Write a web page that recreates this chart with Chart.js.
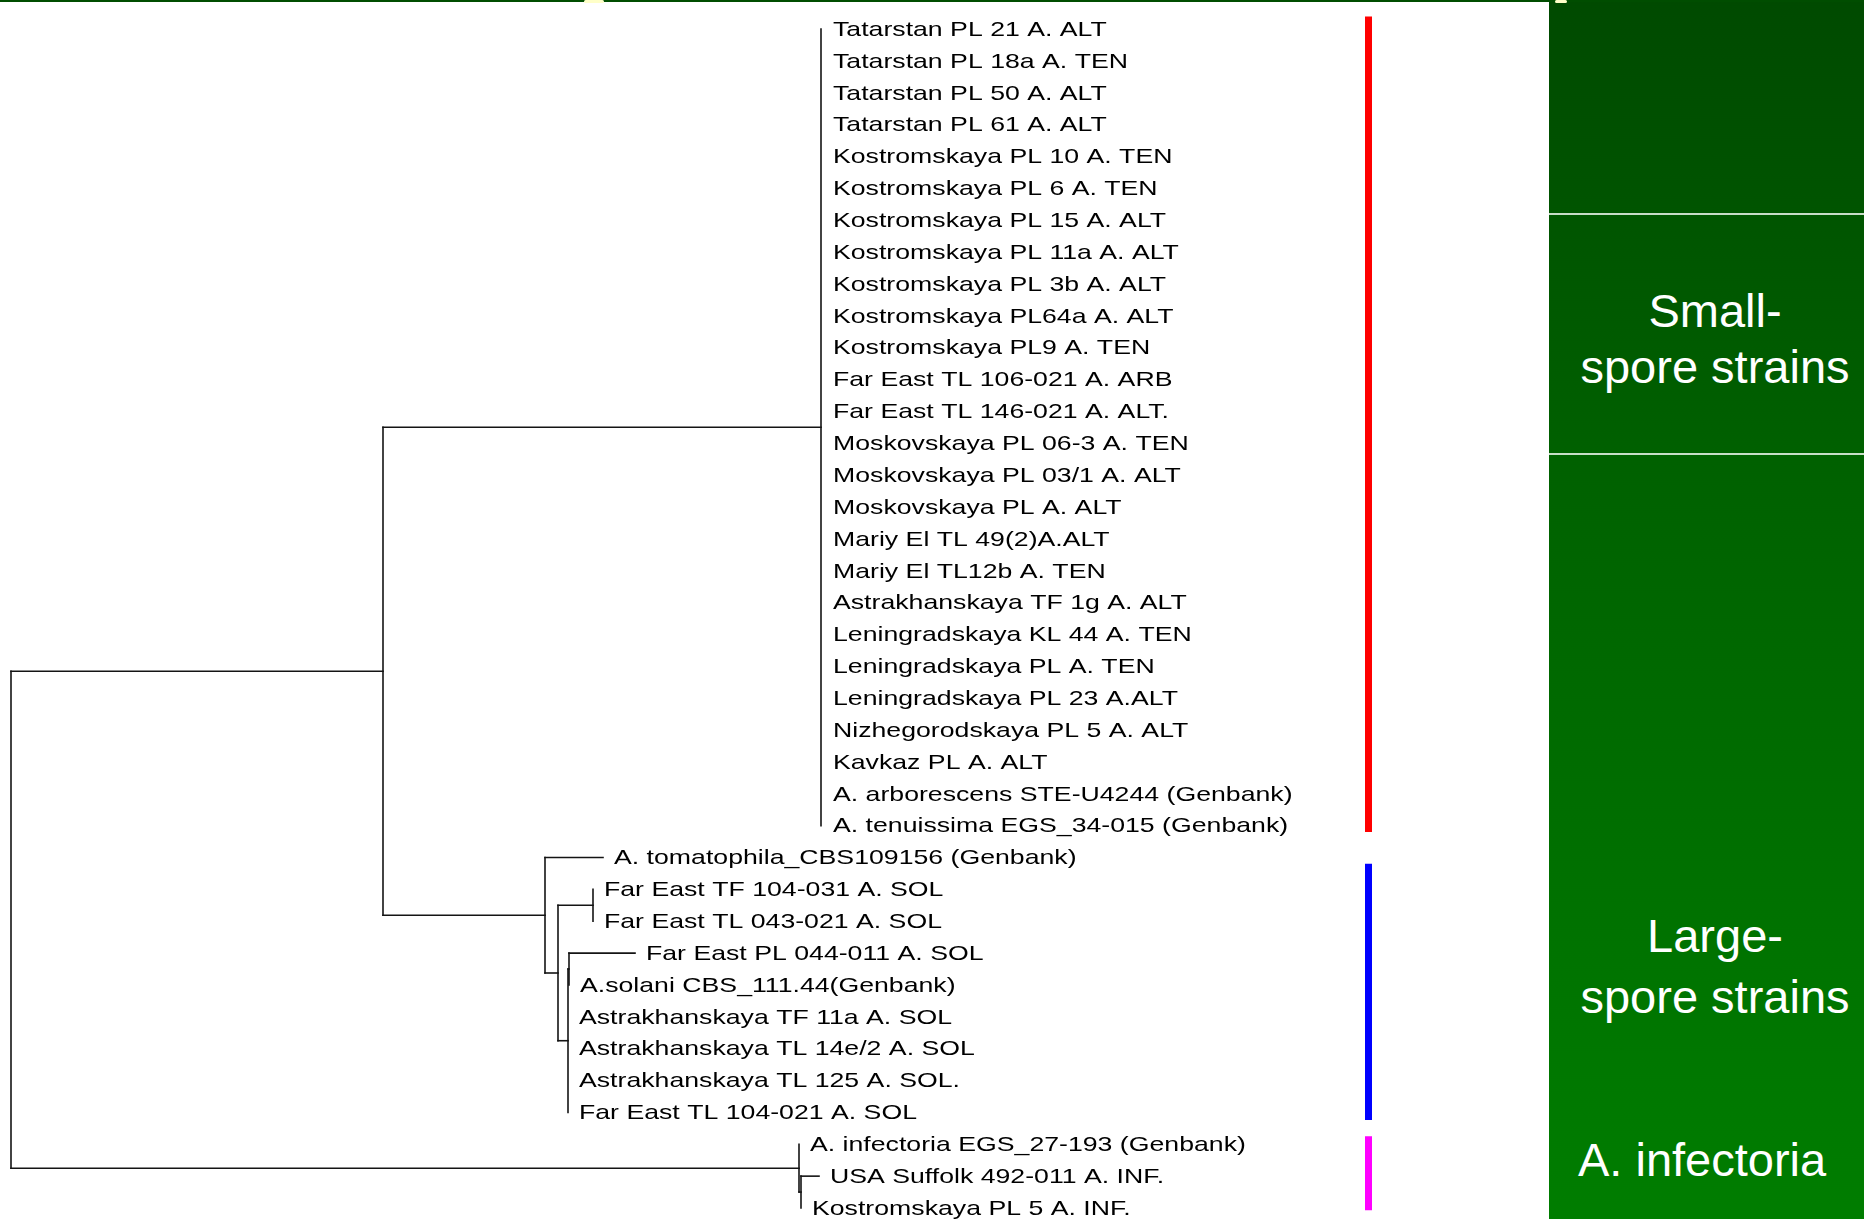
<!DOCTYPE html>
<html>
<head>
<meta charset="utf-8">
<title>Alternaria ITS tree</title>
<script src="https://cdn.jsdelivr.net/npm/chart.js@4/dist/chart.umd.min.js"></script>
<style>
  html, body { margin: 0; padding: 0; background: #ffffff; overflow: hidden; }
  #wrap { position: relative; width: 1864px; height: 1219px; }
  #tree { position: absolute; left: 0; top: 0; }
  #topline { position: absolute; left: 0; top: 0; width: 1864px; height: 2px; background: #004d00; }
  .spark { position: absolute; top: 0; height: 3px; background: #ffffc8; border-radius: 2px; }
  #panel {
    position: absolute; left: 1549px; top: 0; width: 315px; height: 1219px;
    background: linear-gradient(to bottom, #004a00 0%, #006200 40%, #007d00 100%);
    font-family: "Liberation Sans", Arial, sans-serif; color: #ffffff;
  }
  .rule { position: absolute; left: 0; width: 315px; height: 2px; background: rgba(235,245,235,0.85); }
  .cap { position: absolute; font-size: 47px; line-height: 57px; white-space: nowrap; }
  .mid { left: 0; width: 332px; text-align: center; }
</style>
</head>
<body>
<div id="wrap">
  <canvas id="tree" width="1864" height="1219"></canvas>
  <div id="panel">
    <div class="rule" style="top:213px"></div>
    <div class="rule" style="top:453px"></div>
    <div class="cap mid" style="top:282px">Small-</div>
    <div class="cap mid" style="top:338px">spore strains</div>
    <div class="cap mid" style="top:907px">Large-</div>
    <div class="cap mid" style="top:968px">spore strains</div>
    <div class="cap" style="left:29px; top:1131px">A. infectoria</div>
  </div>
  <div id="topline"></div>
  <div class="spark" style="left:584px; width:20px"></div>
  <div class="spark" style="left:1555px; width:12px"></div>
</div>
<script>
// Terminal taxa, top to bottom
const leafLabels = [
  'Tatarstan PL 21 A. ALT', 'Tatarstan PL 18a A. TEN', 'Tatarstan PL 50 A. ALT', 'Tatarstan PL 61 A. ALT',
  'Kostromskaya PL 10 A. TEN', 'Kostromskaya PL 6 A. TEN', 'Kostromskaya PL 15 A. ALT',
  'Kostromskaya PL 11a A. ALT', 'Kostromskaya PL 3b A. ALT', 'Kostromskaya PL64a A. ALT', 'Kostromskaya PL9 A. TEN',
  'Far East TL 106-021 A. ARB', 'Far East TL 146-021 A. ALT.',
  'Moskovskaya PL 06-3 A. TEN', 'Moskovskaya PL 03/1 A. ALT', 'Moskovskaya PL A. ALT',
  'Mariy El TL 49(2)A.ALT', 'Mariy El TL12b A. TEN',
  'Astrakhanskaya TF 1g A. ALT',
  'Leningradskaya KL 44 A. TEN', 'Leningradskaya PL A. TEN', 'Leningradskaya PL 23 A.ALT',
  'Nizhegorodskaya PL 5 A. ALT', 'Kavkaz PL A. ALT',
  'A. arborescens STE-U4244 (Genbank)', 'A. tenuissima EGS_34-015 (Genbank)',
  'A. tomatophila_CBS109156 (Genbank)',
  'Far East TF 104-031 A. SOL', 'Far East TL 043-021 A. SOL', 'Far East PL 044-011 A. SOL',
  'A.solani CBS_111.44(Genbank)', 'Astrakhanskaya TF 11a A. SOL', 'Astrakhanskaya TL 14e/2 A. SOL',
  'Astrakhanskaya TL 125 A. SOL.', 'Far East TL 104-021 A. SOL',
  'A. infectoria EGS_27-193 (Genbank)', 'USA Suffolk 492-011 A. INF.', 'Kostromskaya PL 5 A. INF.'
];

// Parent node of each taxon and its branch length (substitutions/site)
const leafParent = [
  'S','S','S','S','S','S','S','S','S','S','S','S','S',
  'S','S','S','S','S','S','S','S','S','S','S','S','S',
  'B','D','D','F','F','E','E','E','E',
  'I','J','J'
];
const leafLength = [
  0,0,0,0,0,0,0,0,0,0,0,0,0,
  0,0,0,0,0,0,0,0,0,0,0,0,0,
  0.0058, 0, 0, 0.0066, 0, 0, 0, 0, 0,
  0, 0.0018, 0
];

// Internal nodes, their parents and branch lengths
const nodeIds     = ['root', 'A',    'S',    'B',    'C',    'D',    'E',    'F',    'I',    'J'];
const nodeParent  = [null,   'root', 'A',    'A',    'B',    'C',    'C',    'E',    'root', 'I'];
const nodeLength  = [0,      0.0372, 0.0438, 0.0162, 0.0013, 0.0035, 0.0010, 0.0001, 0.0788, 0.0002];

// Clade markers on the right
const cladeColors = ['#ff0000', '#0000ff', '#ff00ff'];
const cladeFrom   = [-0.39, 26.2, 34.75];
const cladeTo     = [25.2, 34.24, 37.07];
const cladeBarX   = 0.13575;

// ---- layout of the rectangular cladogram ----
const depth = {};
const rowOf = {};
const children = {};
nodeIds.forEach(id => { children[id] = []; });

function nodeDepth(id) {
  if (depth[id] !== undefined) return depth[id];
  const i = nodeIds.indexOf(id);
  const p = nodeParent[i];
  depth[id] = p === null ? 0 : nodeDepth(p) + nodeLength[i];
  return depth[id];
}
nodeIds.forEach(id => nodeDepth(id));

// children in drawing order (by first taxon below them)
leafLabels.forEach((name, i) => {
  children[leafParent[i]].push({ leaf: i });
});
nodeIds.forEach((id, i) => {
  if (nodeParent[i] !== null) children[nodeParent[i]].push({ node: id });
});

function firstLeaf(c) {
  if (c.leaf !== undefined) return c.leaf;
  return Math.min(...children[c.node].map(firstLeaf));
}
nodeIds.forEach(id => children[id].sort((a, b) => firstLeaf(a) - firstLeaf(b)));

function childRow(c) { return c.leaf !== undefined ? c.leaf : nodeRow(c.node); }
function nodeRow(id) {
  if (rowOf[id] !== undefined) return rowOf[id];
  const ch = children[id];
  const r0 = childRow(ch[0]);
  const r1 = childRow(ch[ch.length - 1]);
  rowOf[id] = (r0 + r1) / 2;
  return rowOf[id];
}
nodeIds.forEach(id => nodeRow(id));

const leafTip = leafLabels.map((_, i) => depth[leafParent[i]] + leafLength[i]);

// ---- branch segments ----
const segments = [];
nodeIds.forEach(id => {
  const ch = children[id];
  const rows = ch.map(childRow);
  segments.push([{ x: depth[id], y: Math.min(...rows) }, { x: depth[id], y: Math.max(...rows) }]);
  ch.forEach(c => {
    const endX = c.leaf !== undefined ? leafTip[c.leaf] : depth[c.node];
    if (endX > depth[id]) {
      segments.push([{ x: depth[id], y: childRow(c) }, { x: endX, y: childRow(c) }]);
    }
  });
});

const datasets = segments.map(seg => ({
  data: seg,
  showLine: true,
  borderColor: '#141414',
  borderWidth: 1.6,
  borderCapStyle: 'square',
  pointRadius: 0,
  fill: false,
  clip: false
}));

cladeColors.forEach((c, i) => {
  datasets.push({
    data: [{ x: cladeBarX, y: cladeFrom[i] }, { x: cladeBarX, y: cladeTo[i] }],
    showLine: true,
    borderColor: c,
    borderWidth: 7,
    borderCapStyle: 'butt',
    pointRadius: 0,
    fill: false,
    clip: false
  });
});

// taxon names written just right of each terminal branch
const tipLabels = {
  id: 'tipLabels',
  afterDatasetsDraw(chart) {
    const { ctx, scales } = chart;
    ctx.save();
    ctx.fillStyle = '#000000';
    ctx.font = '21px "Liberation Sans", Arial, sans-serif';
    ctx.textBaseline = 'middle';
    ctx.textAlign = 'left';
    leafLabels.forEach((name, i) => {
      const gap = leafParent[i] === 'S' ? 12 : 11;
      const px = scales.x.getPixelForValue(leafTip[i]) + gap;
      const py = scales.y.getPixelForValue(i);
      ctx.save();
      ctx.translate(px, py);
      ctx.scale(1.27, 1);
      ctx.fillText(name, 0, 1);
      ctx.restore();
    });
    ctx.restore();
  }
};

new Chart(document.getElementById('tree'), {
  type: 'scatter',
  data: { datasets },
  options: {
    responsive: false,
    animation: false,
    events: [],
    layout: { padding: 0 },
    plugins: { legend: { display: false }, tooltip: { enabled: false } },
    scales: {
      x: { type: 'linear', display: false, min: -0.0011, max: 0.1853 },
      y: { type: 'linear', display: false, reverse: true, min: -0.91, max: 37.345 }
    }
  },
  plugins: [tipLabels]
});
</script>
</body>
</html>
